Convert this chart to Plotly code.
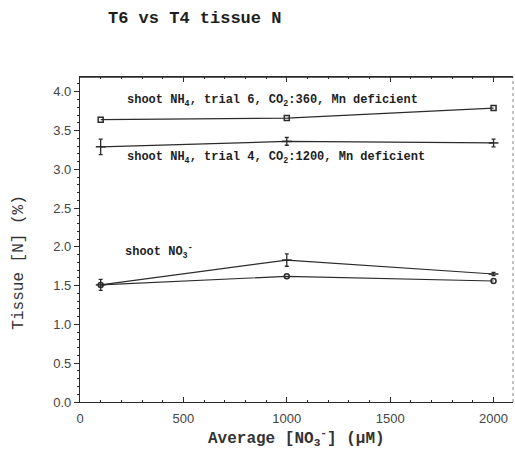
import plotly.graph_objects as go

# Average nitrate concentration (µM)
no3_conc = [100, 1000, 2000]

# Shoot tissue N (%) for each treatment
nh4_trial6 = [3.64, 3.66, 3.79]
nh4_trial4 = [3.29, 3.36, 3.34]
nh4_trial4_err = [0.10, 0.05, 0.05]
no3_trial6 = [1.51, 1.62, 1.56]
no3_trial4 = [1.51, 1.83, 1.65]
no3_trial4_err = [0.07, 0.08, 0.02]

x_ticks = [0, 500, 1000, 1500, 2000]
y_ticks = [0.0, 0.5, 1.0, 1.5, 2.0, 2.5, 3.0, 3.5, 4.0]

INK = "#2b2b2b"
TYPE = "Liberation Mono"

fig = go.Figure()

def trial6(y, symbol):
    fig.add_trace(go.Scatter(
        x=no3_conc, y=y, mode="lines+markers",
        line=dict(color=INK, width=1.2),
        marker=dict(symbol=symbol, size=5, color=INK, line=dict(width=1.5)),
        showlegend=False))

def trial4(y, err):
    fig.add_trace(go.Scatter(
        x=no3_conc, y=y, mode="lines+markers",
        line=dict(color=INK, width=1.2),
        marker=dict(symbol="line-ew-open", size=7, color=INK, line=dict(width=1.5, color=INK)),
        error_y=dict(type="data", array=err, visible=True, color=INK, thickness=1.3, width=2),
        showlegend=False))

trial6(nh4_trial6, "square-open")
trial4(nh4_trial4, nh4_trial4_err)
trial4(no3_trial4, no3_trial4_err)
trial6(no3_trial6, "circle-open")

label_font = dict(family=TYPE, size=12, color="#1e1e1e")
fig.add_annotation(x=218, y=3.88, xanchor="left", yanchor="middle", showarrow=False,
                   text="<b>shoot NH<sub>4</sub>, trial 6, CO<sub>2</sub>:360, Mn deficient</b>",
                   font=label_font)
fig.add_annotation(x=218, y=3.15, xanchor="left", yanchor="middle", showarrow=False,
                   text="<b>shoot NH<sub>4</sub>, trial 4, CO<sub>2</sub>:1200, Mn deficient</b>",
                   font=label_font)
fig.add_annotation(x=210, y=1.93, xanchor="left", yanchor="middle", showarrow=False,
                   text="<b>shoot NO<sub>3</sub><sup>-</sup></b>",
                   font=label_font)

# Axis titles
fig.add_annotation(xref="paper", yref="paper", x=-0.14, y=0.43, textangle=-90,
                   showarrow=False, xanchor="center", yanchor="middle",
                   text="Tissue [N] (%)", font=dict(family=TYPE, size=16, color="#333"))
fig.add_annotation(xref="paper", yref="paper", x=0.5, y=-0.11,
                   showarrow=False, xanchor="center", yanchor="middle",
                   text="<b>Average [NO<sub>3</sub><sup>-</sup>] (µM)</b>",
                   font=dict(family=TYPE, size=16, color="#333"))

# Faint right-hand frame
fig.add_shape(type="line", xref="paper", yref="paper", x0=1, x1=1, y0=0, y1=1,
              line=dict(color="#888", width=1, dash="dot"))

fig.update_layout(
    width=515, height=468,
    margin=dict(l=80, r=2, t=77, b=66),
    paper_bgcolor="white", plot_bgcolor="white",
    title=dict(text="<b>T6 vs T4 tissue N</b>", xref="container", yref="container",
               x=108 / 515, xanchor="left", y=1 - 17 / 468, yanchor="middle",
               font=dict(family=TYPE, size=17, color="#1e1e1e")),
    xaxis=dict(range=[0, 2094], tickvals=x_ticks, ticks="inside", ticklen=5,
               tickcolor=INK, showline=True, linecolor=INK, linewidth=1.3,
               mirror="ticks", showgrid=False, zeroline=False,
               minor=dict(dtick=100, ticks="inside", ticklen=2, tickcolor=INK),
               tickfont=dict(family="Liberation Sans", size=13, color="#444"),
               ticklabelstandoff=4),
    yaxis=dict(range=[0, 4.19], tickvals=y_ticks, tickformat=".1f", ticksuffix="  ",
               ticks="outside", ticklen=5, tickcolor=INK,
               showline=True, linecolor=INK, linewidth=1.3,
               showgrid=False, zeroline=False,
               minor=dict(dtick=0.1, ticks="outside", ticklen=2, tickcolor=INK),
               tickfont=dict(family="Liberation Sans", size=13, color="#444")),
)
# Top frame line
fig.add_shape(type="line", xref="paper", yref="paper", x0=0, x1=1, y0=1, y1=1,
              line=dict(color=INK, width=1.3))

fig.write_html("out.html")
